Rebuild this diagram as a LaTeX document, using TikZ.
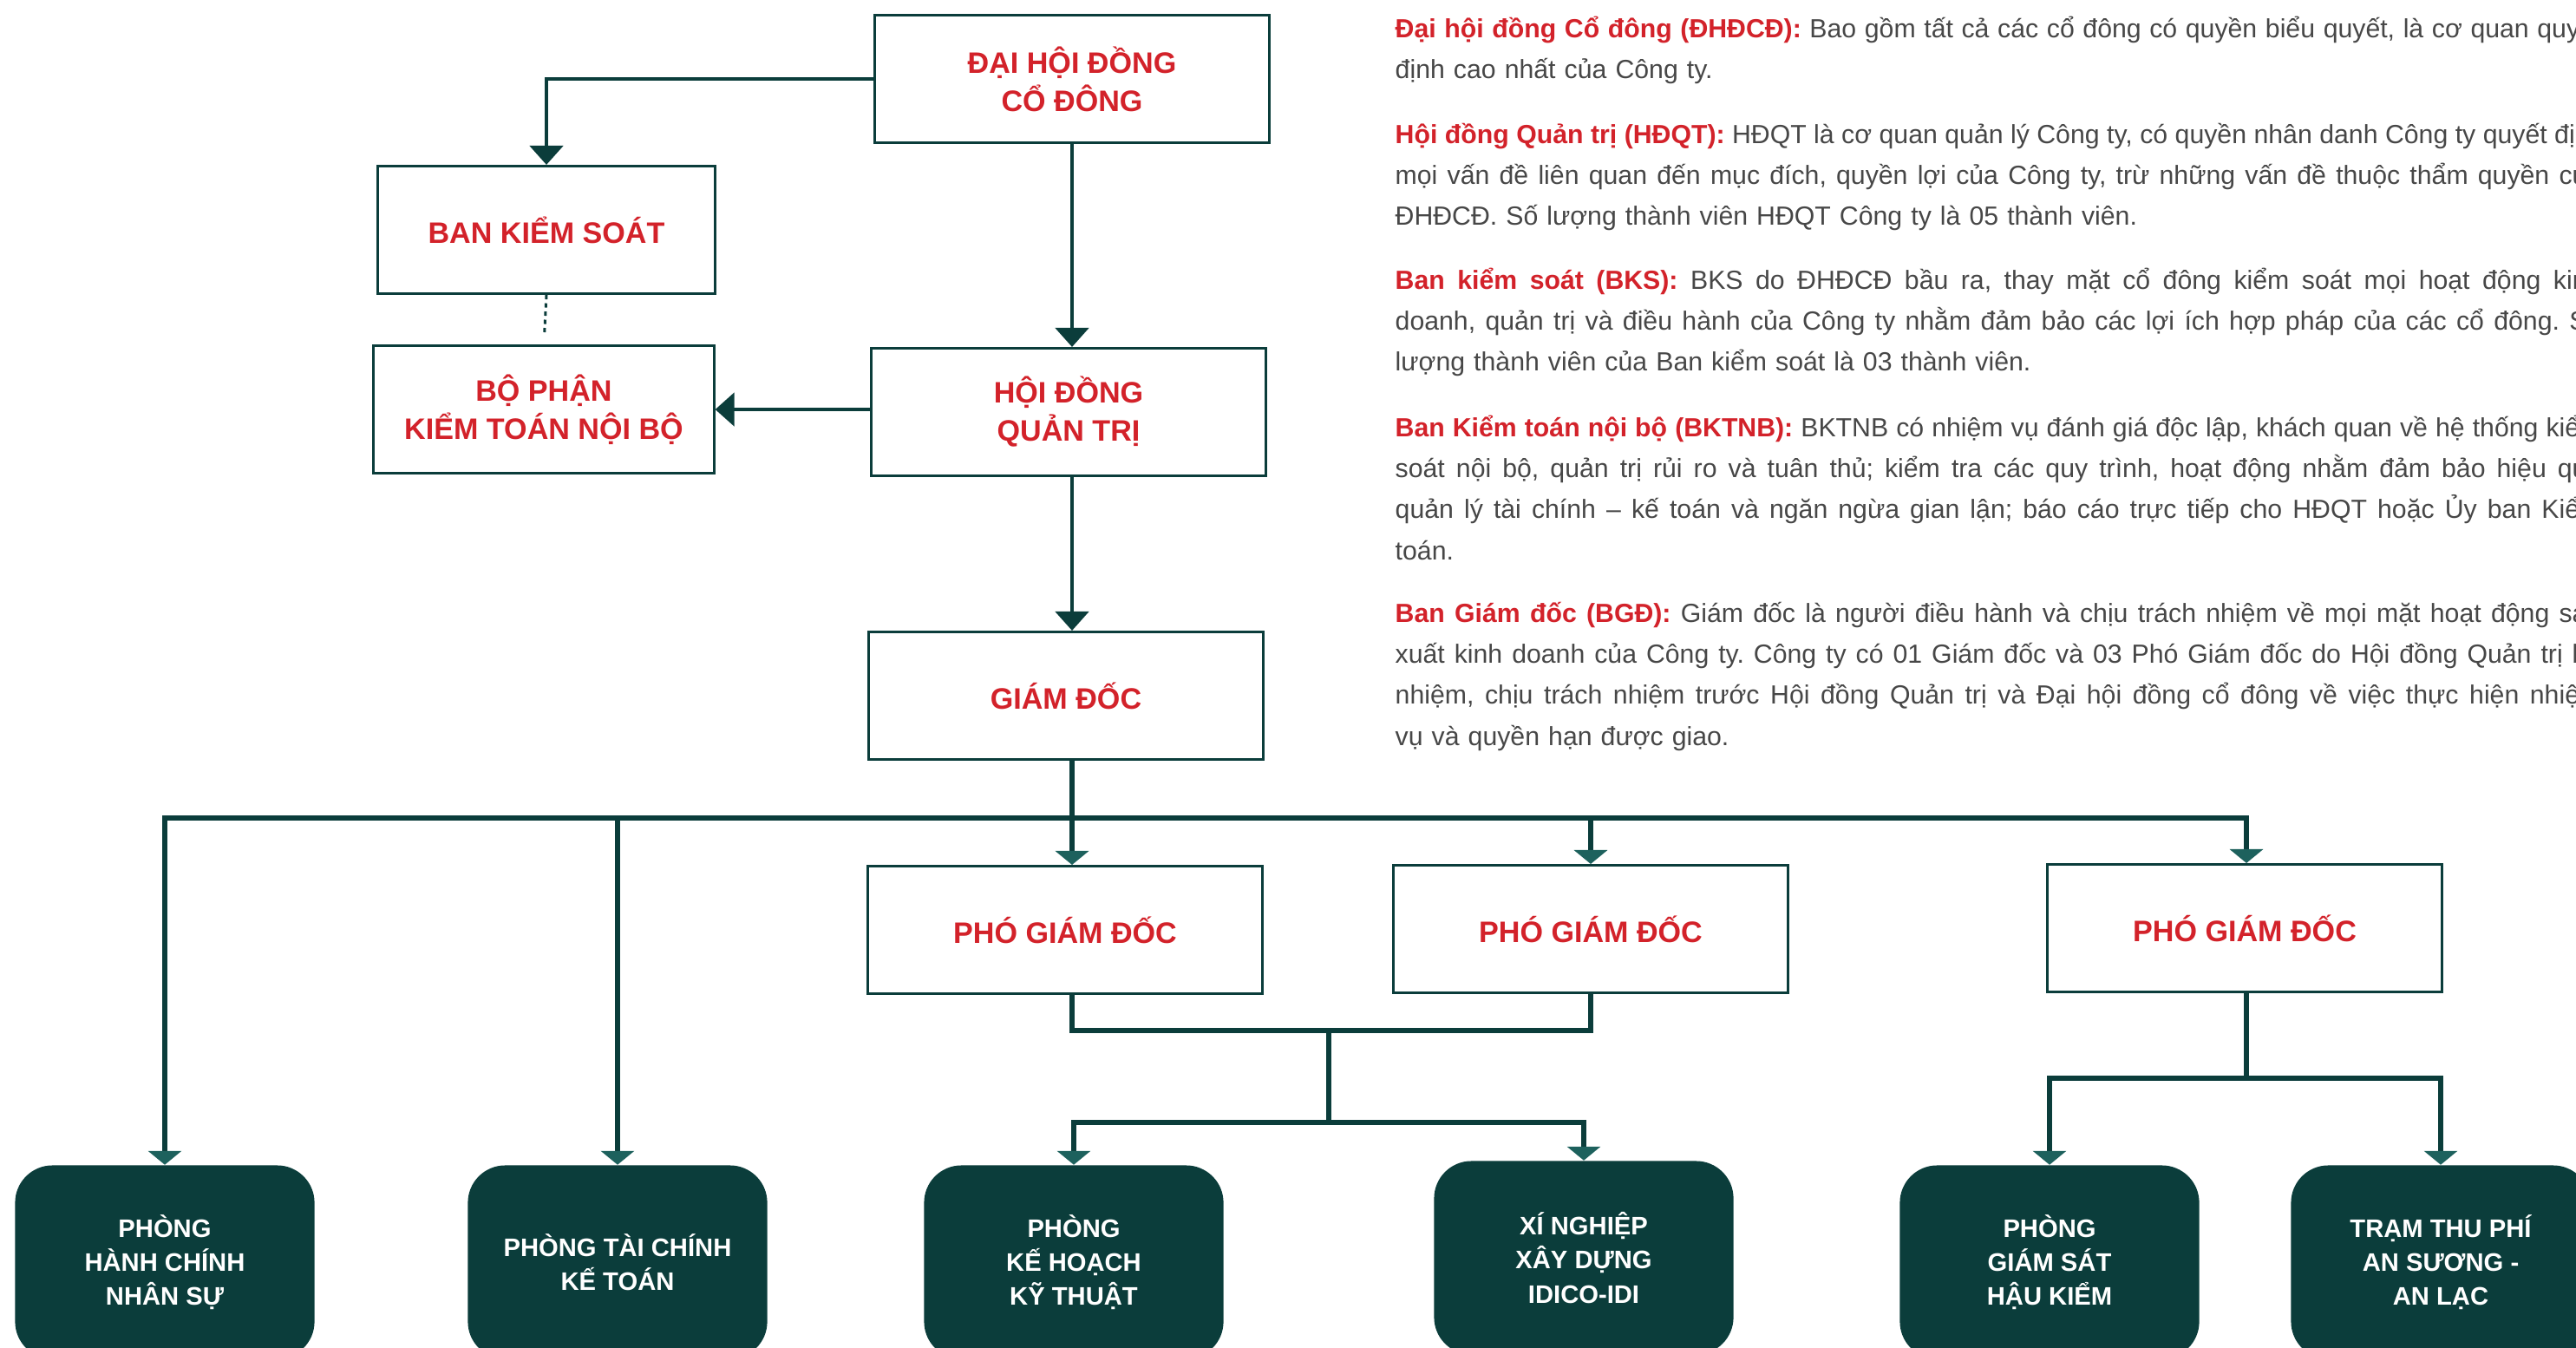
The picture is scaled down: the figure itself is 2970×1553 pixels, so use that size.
\documentclass[tikz,border=0pt]{standalone}
\usepackage{fontspec}
\setmainfont{Liberation Sans}
\usepackage{tikz}
\usetikzlibrary{arrows.meta,positioning}
\definecolor{darkgreen}{HTML}{0B3D3B}
\definecolor{tealhead}{HTML}{1D615D}
\definecolor{idicored}{HTML}{D3222A}
\definecolor{bodygray}{HTML}{474747}
\frenchspacing
\newcommand{\jline}[1]{\makebox[13.9cm][s]{\spaceskip=0.28em plus 1fil\relax #1}}
\newcommand{\lbl}[1]{{\bfseries\color{idicored}#1}}

\begin{document}
\begin{tikzpicture}[x=0.01cm, y=-0.01cm,
  topbox/.style = {draw=darkgreen, line width=0.85pt, fill=white, minimum width=4.55cm,
    minimum height=1.47cm, align=center, text=idicored, inner sep=0pt,
    font=\fontsize{9.7}{12.5}\selectfont\bfseries},
  unitbox/.style = {fill=darkgreen, rounded corners=0.43cm, minimum width=3.45cm,
    minimum height=2.23cm, align=center, text=white, inner sep=0pt,
    font=\fontsize{8.3}{11.1}\selectfont\bfseries},
  bigarrow/.style = {draw=darkgreen, line width=1.4pt, -{Triangle[width=0.38cm,length=0.22cm]}},
  smallarrow/.style = {draw=darkgreen, line width=1.5pt,
    -{Triangle[width=0.38cm,length=0.16cm,color=tealhead]}},
  link/.style = {draw=darkgreen, line width=1.5pt},
  para/.style = {anchor=base west, inner sep=0pt, text width=13.9cm, align=left,
    text=bodygray, font=\fontsize{8.6}{13.5}\selectfont}]
  \useasboundingbox (0,0) rectangle (2970,1553);
  \fill[white] (0,0) rectangle (2970,1553);

  % governing bodies
  \node[topbox] (dhcd) at (1236,91) {ĐẠI HỘI ĐỒNG\\CỔ ĐÔNG};
  \node[topbox, minimum width=3.88cm] (bks) at (630,265) {BAN KIỂM SOÁT};
  \node[topbox, minimum width=3.92cm] (bpktnb) at (627,472) {BỘ PHẬN\\KIỂM TOÁN NỘI BỘ};
  \node[topbox] (hdqt) at (1232,475) {HỘI ĐỒNG\\QUẢN TRỊ};
  \node[topbox] (gd) at (1229,802) {GIÁM ĐỐC};

  \node[topbox] (pgd1) at (1228,1072) {PHÓ GIÁM ĐỐC};
  \node[topbox] (pgd2) at (1834,1071) {PHÓ GIÁM ĐỐC};
  \node[topbox] (pgd3) at (2588,1070) {PHÓ GIÁM ĐỐC};

  % units
  \begin{scope}[nodes = {unitbox}]
    \node (hcns) at (190,1455) {PHÒNG\\HÀNH CHÍNH\\NHÂN SỰ};
    \node (tckt) at (712,1455) {PHÒNG TÀI CHÍNH\\KẾ TOÁN};
    \node (khkt) at (1238,1455) {PHÒNG\\KẾ HOẠCH\\KỸ THUẬT};
    \node (xnxd) at (1826,1450) {XÍ NGHIỆP\\XÂY DỰNG\\IDICO-IDI};
    \node (gshk) at (2363,1455) {PHÒNG\\GIÁM SÁT\\HẬU KIỂM};
    \node (ttp) at (2814,1455) {TRẠM THU PHÍ\\AN SƯƠNG -\\AN LẠC};
  \end{scope}

  \coordinate (spine) at (1236,0);
  \coordinate (bus) at (1236,943);
  \coordinate (pj) at (1532,1188);
  \coordinate (kj) at (1532,1294);
  \coordinate (gj) at (2590,1243);

  \draw[bigarrow] (dhcd.west) -| (bks.north);
  \draw[darkgreen, line width=0.85pt, dash pattern=on 0.05cm off 0.045cm, shorten >=0.12cm]
    (bks.south) -- (bpktnb.north);
  \draw[bigarrow] (spine |- dhcd.south) -- (spine |- hdqt.north);
  \draw[bigarrow] (hdqt.west |- bpktnb.east) -- (bpktnb.east);
  \draw[bigarrow] (spine |- hdqt.south) -- (spine |- gd.north);

  \draw[smallarrow] (spine |- gd.south) -- (spine |- pgd1.north);
  \draw[smallarrow] (bus) -| (hcns.north);
  \draw[smallarrow] (bus) -| (gj |- pgd3.north);
  \draw[smallarrow] (tckt.north |- bus) -- (tckt.north);
  \draw[smallarrow] (pgd2.north |- bus) -- (pgd2.north);

  \draw[link] (spine |- pgd1.south) |- (pj) -| (pgd2.south);
  \draw[link] (pj) -- (kj);
  \draw[smallarrow] (kj) -| (khkt.north);
  \draw[smallarrow] (kj) -| (xnxd.north);
  \draw[link] (gj |- pgd3.south) -- (gj);
  \draw[smallarrow] (gj) -| (gshk.north);
  \draw[smallarrow] (gj) -| (ttp.north);

  % notes on the right
  \node[para] (note1) at (1608,43) {%
    \jline{\lbl{Đại hội đồng Cổ đông (ĐHĐCĐ):} Bao gồm tất cả các cổ đông có quyền biểu quyết, là cơ quan quyết}\\
    định cao nhất của Công ty.};
  \node[para] (note2) at (1608,165) {%
    \jline{\lbl{Hội đồng Quản trị (HĐQT):} HĐQT là cơ quan quản lý Công ty, có quyền nhân danh Công ty quyết định}\\
    \jline{mọi vấn đề liên quan đến mục đích, quyền lợi của Công ty, trừ những vấn đề thuộc thẩm quyền của}\\
    ĐHĐCĐ. Số lượng thành viên HĐQT Công ty là 05 thành viên.};
  \node[para] (note3) at (1608,333) {%
    \jline{\lbl{Ban kiểm soát (BKS):} BKS do ĐHĐCĐ bầu ra, thay mặt cổ đông kiểm soát mọi hoạt động kinh}\\
    \jline{doanh, quản trị và điều hành của Công ty nhằm đảm bảo các lợi ích hợp pháp của các cổ đông. Số}\\
    lượng thành viên của Ban kiểm soát là 03 thành viên.};
  \node[para] (note4) at (1608,503) {%
    \jline{\lbl{Ban Kiểm toán nội bộ (BKTNB):} BKTNB có nhiệm vụ đánh giá độc lập, khách quan về hệ thống kiểm}\\
    \jline{soát nội bộ, quản trị rủi ro và tuân thủ; kiểm tra các quy trình, hoạt động nhằm đảm bảo hiệu quả}\\
    \jline{quản lý tài chính – kế toán và ngăn ngừa gian lận; báo cáo trực tiếp cho HĐQT hoặc Ủy ban Kiểm}\\
    toán.};
  \node[para] (note5) at (1608,717) {%
    \jline{\lbl{Ban Giám đốc (BGĐ):} Giám đốc là người điều hành và chịu trách nhiệm về mọi mặt hoạt động sản}\\
    \jline{xuất kinh doanh của Công ty. Công ty có 01 Giám đốc và 03 Phó Giám đốc do Hội đồng Quản trị bổ}\\
    \jline{nhiệm, chịu trách nhiệm trước Hội đồng Quản trị và Đại hội đồng cổ đông về việc thực hiện nhiệm}\\
    vụ và quyền hạn được giao.};
\end{tikzpicture}
\end{document}
